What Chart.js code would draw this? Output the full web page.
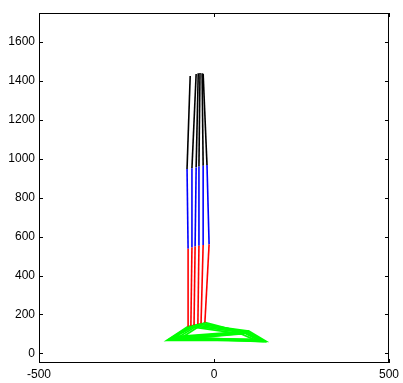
<!DOCTYPE html>
<html>
<head>
<meta charset="utf-8">
<script src="https://cdn.jsdelivr.net/npm/chart.js"></script>
<style>
  html, body { margin: 0; padding: 0; background: #fff; }
  #wrap { width: 403px; height: 383px; }
</style>
</head>
<body>
<div id="wrap"><canvas id="c" width="403" height="383"></canvas></div>
<script>
// one entry per frame of the stick leg
const ankleX = [-74, -66, -57, -46, -37, -26];
const ankleY = [138, 142, 146, 150, 154, 158];
const kneeX  = [-74, -63, -54, -43, -31, -14];
const kneeY  = [538, 544, 549, 553, 557, 560];
const hipX   = [-77, -63, -51, -43, -31, -20];
const hipY   = [948, 952, 956, 960, 964, 968];
const topX   = [-68, -51, -45, -40, -34, -31];
const topY   = [1426, 1436, 1440, 1441, 1440, 1438];
const heelX  = [-134, -126, -118, -110, -102, -96];
const heelY  = [67, 74, 80, 86, 82, 76];
const metaX  = [78, 86, 94, 100, 96, 90];
const metaY  = [100, 106, 110, 114, 108, 104];
const toeX   = [120, 132, 142, 148, 138, 128];
const toeY   = [66, 62, 60, 62, 68, 72];

const xTicks = [-500, 0, 500];
const yTicks = [0, 200, 400, 600, 800, 1000, 1200, 1400, 1600];

const datasets = [];
function seg(points, color, w) {
  datasets.push({
    data: points,
    borderColor: color,
    backgroundColor: color,
    borderWidth: w,
    pointRadius: 0,
    showLine: true,
    fill: false
  });
}
for (let i = 0; i < ankleX.length; i++) {
  const a = { x: ankleX[i], y: ankleY[i] };
  const k = { x: kneeX[i], y: kneeY[i] };
  const h = { x: hipX[i], y: hipY[i] };
  const t = { x: topX[i], y: topY[i] };
  seg([a, k], '#ff0000', 1.6);
  seg([k, h], '#0000ff', 1.6);
  seg([h, t], '#000000', 1.6);
}
for (let i = 0; i < ankleX.length; i++) {
  const a = { x: ankleX[i], y: ankleY[i] };
  const he = { x: heelX[i], y: heelY[i] };
  const m = { x: metaX[i], y: metaY[i] };
  const to = { x: toeX[i], y: toeY[i] };
  seg([m, a, he, m, to, he], '#00ff00', 1.8);
}

// box + inward ticks, matlab style
const boxPlugin = {
  id: 'box',
  afterDraw(chart) {
    const { ctx, chartArea: a, scales } = chart;
    ctx.save();
    ctx.strokeStyle = '#000';
    ctx.lineWidth = 1;
    ctx.strokeRect(a.left + 0.5, a.top + 0.5, a.right - a.left - 1, a.bottom - a.top - 1);
    ctx.beginPath();
    yTicks.forEach(v => {
      const py = Math.round(scales.y.getPixelForValue(v)) + 0.5;
      ctx.moveTo(a.left, py); ctx.lineTo(a.left + 4, py);
      ctx.moveTo(a.right, py); ctx.lineTo(a.right - 4, py);
    });
    xTicks.forEach(v => {
      const px = Math.round(scales.x.getPixelForValue(v)) + 0.5;
      ctx.moveTo(px, a.bottom); ctx.lineTo(px, a.bottom - 4);
      ctx.moveTo(px, a.top); ctx.lineTo(px, a.top + 4);
    });
    ctx.stroke();
    ctx.restore();
  }
};

const tickFont = { family: 'Liberation Sans, Arial', size: 12 };

new Chart(document.getElementById('c'), {
  type: 'scatter',
  data: { datasets },
  options: {
    responsive: false,
    animation: false,
    layout: { padding: { top: 13, right: 14, left: 0, bottom: 0 } },
    plugins: { legend: { display: false }, tooltip: { enabled: false } },
    scales: {
      x: {
        type: 'linear', min: -500, max: 500,
        afterBuildTicks: s => { s.ticks = xTicks.map(v => ({ value: v })); },
        afterFit: s => { s.height = 20; },
        grid: { display: false, drawTicks: false },
        border: { display: false },
        ticks: { color: '#000', padding: 4, maxRotation: 0, font: tickFont, callback: v => String(v) }
      },
      y: {
        type: 'linear', min: -50, max: 1750,
        afterBuildTicks: s => { s.ticks = yTicks.map(v => ({ value: v })); },
        afterFit: s => { s.width = 39; },
        grid: { display: false, drawTicks: false },
        border: { display: false },
        ticks: { color: '#000', padding: 4, font: tickFont, callback: v => String(v) }
      }
    }
  },
  plugins: [boxPlugin]
});
</script>
</body>
</html>
